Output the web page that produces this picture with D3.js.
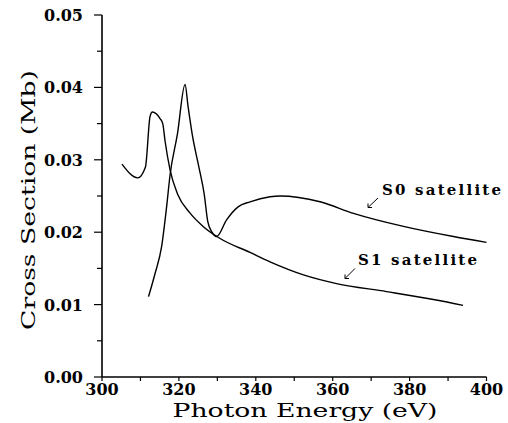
<!DOCTYPE html>
<html>
<head>
<meta charset="utf-8">
<script src="https://cdn.jsdelivr.net/npm/d3@7"></script>
<style>
  body { margin: 0; background: #fff; }
  svg { display: block; }
</style>
</head>
<body>
<div id="chart"></div>
<script>
// photon energy (eV) / cross section (Mb)
const s0Energy = [312.1, 313.8, 315.5, 316.8, 317.7, 319.6, 321.6, 322.4, 323.5, 325.2, 326.6, 327.5, 328.6, 329.8, 332.4, 335.4, 338.5, 343.7, 346.3, 356.7, 365.4, 378.4, 391.4, 400];
const s0Cross  = [0.0111, 0.0143, 0.0180, 0.0235, 0.0279, 0.0335, 0.0404, 0.0373, 0.0334, 0.0290, 0.0252, 0.0215, 0.0200, 0.0194, 0.0217, 0.0235, 0.0242, 0.0249, 0.0250, 0.0242, 0.0226, 0.0208, 0.0194, 0.0186];

const s1Energy = [305.2, 309.3, 311.3, 312.5, 313.1, 315.1, 315.8, 316.4, 317.7, 319.7, 322.8, 326.3, 330.5, 338.5, 343.7, 352.4, 361, 374, 386.2, 393.9];
const s1Cross  = [0.0294, 0.0275, 0.0290, 0.0360, 0.0366, 0.0357, 0.0350, 0.0326, 0.0286, 0.0252, 0.0227, 0.0208, 0.0192, 0.0172, 0.0159, 0.0141, 0.0129, 0.0118, 0.0107, 0.0099];

const xTicks = [300, 320, 340, 360, 380, 400];
const xMinor = [310, 330, 350, 370, 390];
const yTicks = [0, 0.01, 0.02, 0.03, 0.04, 0.05];
const yMinor = [0.005, 0.015, 0.025, 0.035, 0.045];

const width = 508, height = 423;
const x = d3.scaleLinear().domain([300, 400]).range([102, 486.5]);
const y = d3.scaleLinear().domain([0, 0.05]).range([377, 15]);

const svg = d3.select("#chart").append("svg")
    .attr("width", width)
    .attr("height", height);

const font = "'DejaVu Serif', serif";

// axes lines
svg.append("line")
    .attr("x1", x(300)).attr("x2", x(400))
    .attr("y1", y(0)).attr("y2", y(0))
    .attr("stroke", "#000").attr("stroke-width", 1.3);
svg.append("line")
    .attr("x1", x(300)).attr("x2", x(300))
    .attr("y1", y(0)).attr("y2", y(0.05))
    .attr("stroke", "#000").attr("stroke-width", 1.6);

// y ticks
svg.selectAll(".ytick").data(yTicks.concat(yMinor)).enter().append("line")
    .attr("x1", x(300))
    .attr("x2", d => yTicks.includes(d) ? x(300) - 8 : x(300) - 5)
    .attr("y1", d => y(d)).attr("y2", d => y(d))
    .attr("stroke", "#000").attr("stroke-width", 1.2);

svg.selectAll(".ylab").data(yTicks).enter().append("text")
    .attr("x", 83)
    .attr("y", d => y(d) + 6)
    .attr("text-anchor", "end")
    .attr("font-family", font)
    .attr("font-weight", "bold")
    .attr("font-size", 16)
    .text(d => d.toFixed(2));

// x ticks
svg.selectAll(".xtick").data(xTicks.concat(xMinor)).enter().append("line")
    .attr("x1", d => x(d)).attr("x2", d => x(d))
    .attr("y1", y(0)).attr("y2", y(0) + 4)
    .attr("stroke", "#000").attr("stroke-width", 1.2);

svg.selectAll(".xlab").data(xTicks).enter().append("text")
    .attr("x", d => x(d))
    .attr("y", 395)
    .attr("text-anchor", "middle")
    .attr("font-family", font)
    .attr("font-weight", "bold")
    .attr("font-size", 16)
    .text(d => d);

// axis titles
svg.append("text")
    .attr("x", 305).attr("y", 417)
    .attr("text-anchor", "middle")
    .attr("font-family", font)
    .attr("font-size", 18)
    .attr("textLength", 265)
    .attr("lengthAdjust", "spacingAndGlyphs")
    .text("Photon Energy (eV)");

svg.append("text")
    .attr("transform", "translate(35,200) rotate(-90)")
    .attr("text-anchor", "middle")
    .attr("font-family", font)
    .attr("font-size", 19)
    .attr("textLength", 260)
    .attr("lengthAdjust", "spacingAndGlyphs")
    .text("Cross Section (Mb)");

// curves
const line = d3.line()
    .x(d => x(d[0]))
    .y(d => y(d[1]))
    .curve(d3.curveMonotoneX);

[[s0Energy, s0Cross], [s1Energy, s1Cross]].forEach(([ex, cs]) => {
    svg.append("path")
        .datum(ex.map((e, i) => [e, cs[i]]))
        .attr("d", line)
        .attr("fill", "none")
        .attr("stroke", "#000")
        .attr("stroke-width", 1.4);
});

// labels with small arrows
const notes = [
    { text: "S0  satellite", tx: 382, ty: 195, from: [378, 198], to: [368, 207.5] },
    { text: "S1  satellite", tx: 358, ty: 265, from: [355, 268.5], to: [345, 278.5] }
];

notes.forEach(n => {
    svg.append("text")
        .attr("x", n.tx).attr("y", n.ty)
        .attr("font-family", font)
        .attr("font-weight", "bold")
        .attr("font-size", 15)
        .attr("textLength", 119)
        .attr("lengthAdjust", "spacing")
        .text(n.text);
    svg.append("line")
        .attr("x1", n.from[0]).attr("y1", n.from[1])
        .attr("x2", n.to[0]).attr("y2", n.to[1])
        .attr("stroke", "#000").attr("stroke-width", 1);
    // arrow head
    const [hx, hy] = n.to;
    svg.append("path")
        .attr("d", `M${hx},${hy} L${hx + 4},${hy} M${hx},${hy} L${hx},${hy - 4}`)
        .attr("stroke", "#000").attr("stroke-width", 1).attr("fill", "none");
});
</script>
</body>
</html>
